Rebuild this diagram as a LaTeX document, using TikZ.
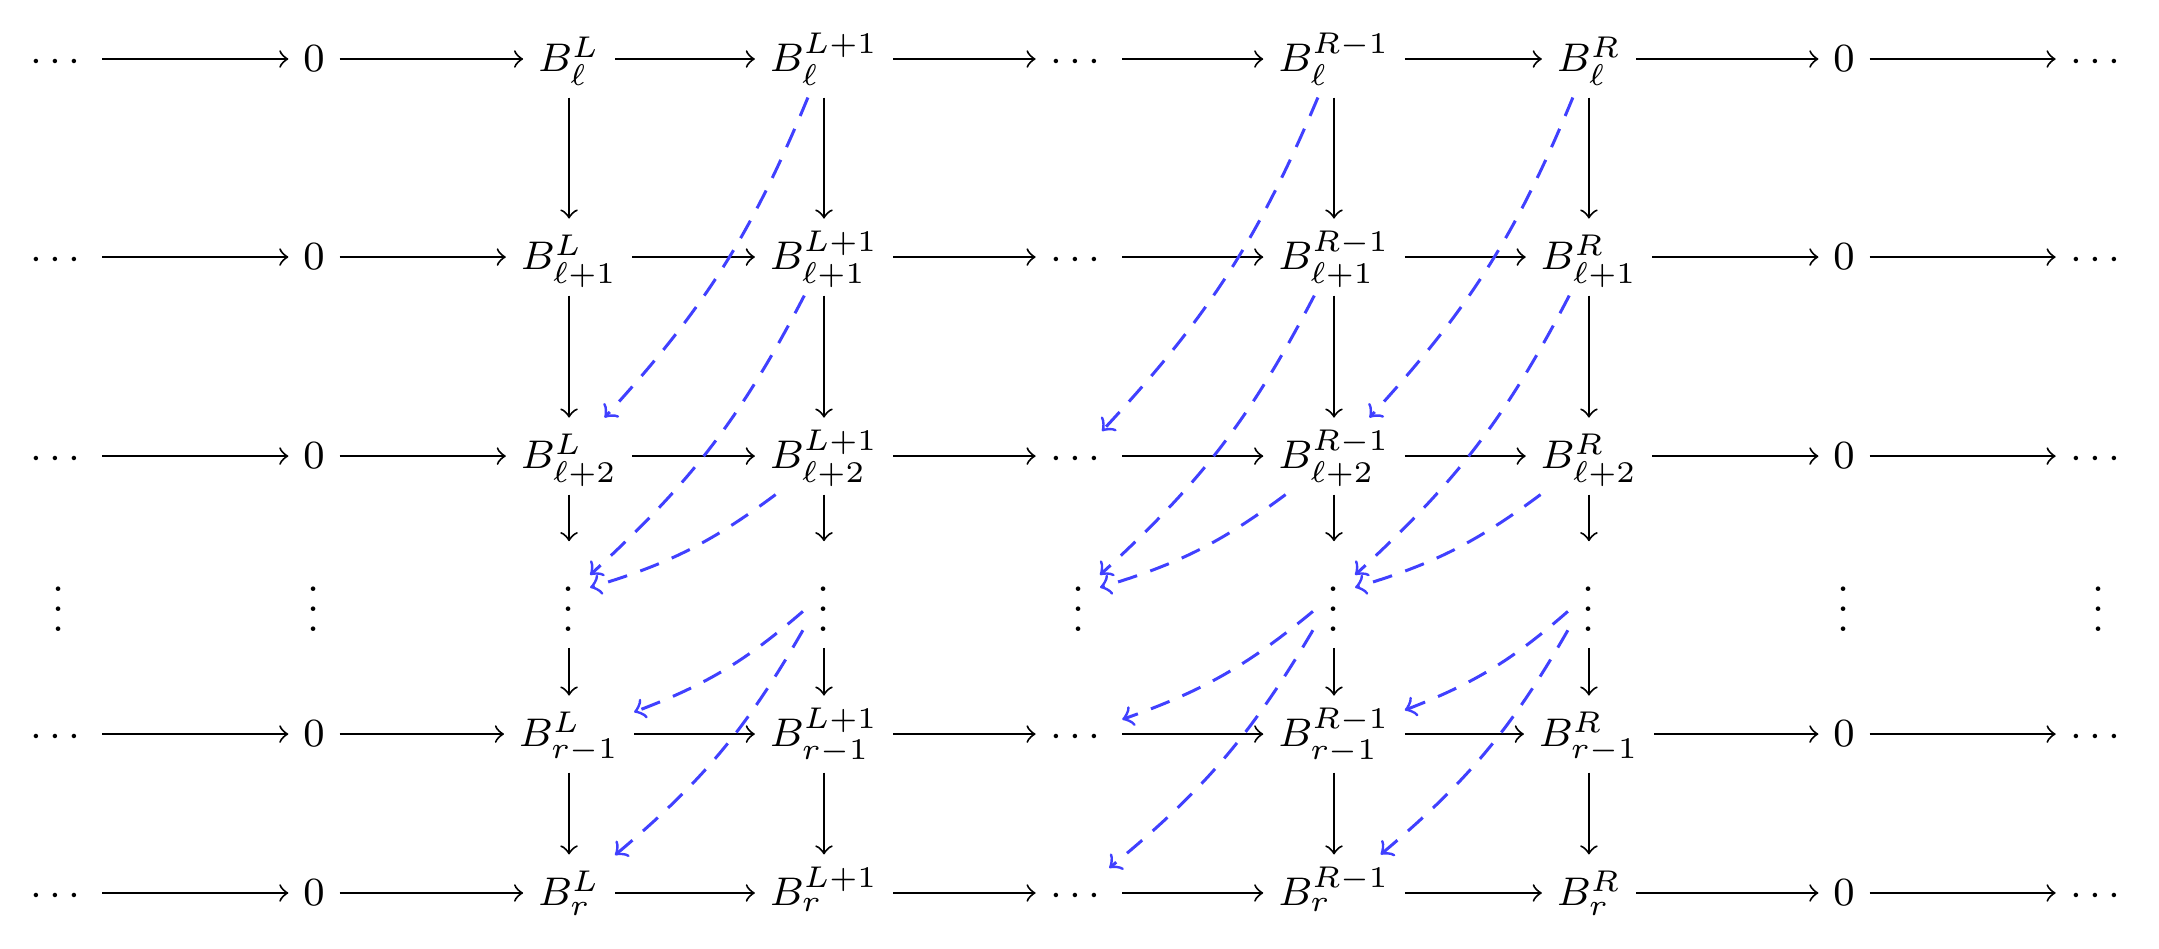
\documentclass[tikz,border=0pt]{standalone}
\usepackage{amsmath}

\begin{document}
\begin{tikzpicture}[font=\fontsize{8.5}{10}\selectfont]
    \tikzstyle{obj}=[inner xsep=2.8pt, inner ysep=1.5pt, text height=8.5pt, text depth=3.5pt]
    \tikzstyle{flat}=[inner xsep=2.8pt, inner ysep=1.5pt, text height=5.8pt, text depth=0.8pt]
    \tikzstyle{gap}=[inner xsep=2.8pt, inner ysep=3pt]
    \tikzstyle{map}=[->]
    \tikzstyle{lift}=[->, semithick, blue!75, dash pattern=on 4pt off 2.8pt, bend left=10]
    \useasboundingbox (0, 0) rectangle (15.176, 6.664);
    % rows of the grid
    \foreach \r/\y/\s in {1/6.249/\ell, 2/4.857/\ell+1, 3/3.458/\ell+2, 5/1.504/r-1, 6/0.387/r} {
        \node [flat] (n\r-1) at (0.415, \y) {$\cdots$};
        \node [flat] (n\r-2) at (2.207, \y) {$0$};
        \node [obj] (n\r-3) at (4.000, \y) {$B^{L}_{\s}$};
        \node [obj] (n\r-4) at (5.792, \y) {$B^{L+1}_{\s}$};
        \node [flat] (n\r-5) at (7.584, \y) {$\cdots$};
        \node [obj] (n\r-6) at (9.377, \y) {$B^{R-1}_{\s}$};
        \node [obj] (n\r-7) at (11.169, \y) {$B^{R}_{\s}$};
        \node [flat] (n\r-8) at (12.962, \y) {$0$};
        \node [flat] (n\r-9) at (14.754, \y) {$\cdots$};
        \foreach \col [count=\nxt from 2] in {1,...,8}
            \draw [map] (n\r-\col) -- (n\r-\nxt);
    }
    % the row of vertical dots
    \foreach \col/\x in {1/0.415, 2/2.207, 3/4.000, 4/5.792, 5/7.584, 6/9.377, 7/11.169, 8/12.962, 9/14.754}
        \node [gap] (n4-\col) at (\x, 2.485) {$\vdots$};
    % vertical maps
    \foreach \col in {3, 4, 6, 7}
        \foreach \a [count=\b from 2] in {1,...,5}
            \draw [map] (n\a-\col) -- (n\b-\col);
    % dashed lifts
    \foreach \src/\dst in {4/3, 6/5, 7/6} {
        \draw [lift] (n1-\src) to (n3-\dst);
        \draw [lift] (n2-\src) to (n4-\dst);
        \draw [lift] (n3-\src) to (n4-\dst);
        \draw [lift] (n4-\src) to (n5-\dst);
        \draw [lift] (n4-\src) to (n6-\dst);
    }
\end{tikzpicture}
\end{document}
